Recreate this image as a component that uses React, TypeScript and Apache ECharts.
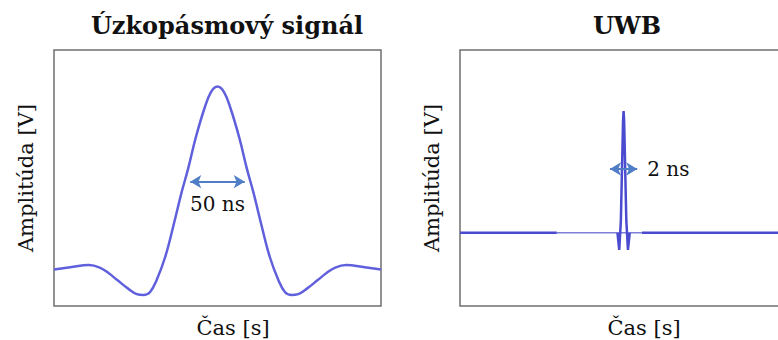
import React, { useEffect, useRef } from "react";
import * as echarts from "echarts";

// Narrowband pulse: time in ns, normalised amplitude
const narrowTimeNs = [-150, -135, -118, -108, -100, -92, -82, -74, -68, -62, -56, -48, -40, -33, -27, -20, -12, -6, 0, 6, 12, 20, 27, 33, 40, 48, 56, 62, 68, 74, 82, 92, 100, 108, 118, 135, 150];
const narrowAmplitude = [0.0, 0.012, 0.024, 0.01, -0.02, -0.058, -0.105, -0.135, -0.14, -0.125, -0.06, 0.068, 0.25, 0.42, 0.55, 0.72, 0.88, 0.97, 1.0, 0.97, 0.88, 0.72, 0.55, 0.42, 0.25, 0.068, -0.06, -0.125, -0.14, -0.135, -0.105, -0.058, -0.02, 0.01, 0.024, 0.012, 0.0];
const narrowWidthNs = 50;
const narrowWidthLevel = 0.48;

// UWB pulse: strong trace with gaps (null) where only the quiet baseline shows
const uwbTimeNs = [-12, -4.9, -4.9, -0.45, -0.32, -0.2, -0.04, 0, 0.04, 0.2, 0.32, 0.45, 0.45, 1.35, 12.5];
const uwbAmplitude = [0, 0, null, 0, -0.14, 0.1, 0.92, 1.0, 0.92, 0.1, -0.14, 0, null, 0, 0];
const uwbQuietTimeNs = [-4.9, 1.35];
const uwbQuietAmplitude = [0, 0];
const uwbWidthNs = 2;
const uwbWidthLevel = 0.524;

const titles = ["Úzkopásmový signál", "UWB"];
const xName = "Čas [s]";
const yName = "Amplitúda [V]";

const pairs = (t: number[], v: (number | null)[]) =>
  t.map((x, i) => [x, v[i] === null ? "-" : v[i]]);

const SERIF = "DejaVu Serif";
const INK = "#111";

export default function App() {
  const ref = useRef<HTMLDivElement>(null);

  useEffect(() => {
    if (!ref.current) return;
    const chart = echarts.init(ref.current, undefined, { renderer: "svg" });

    const hiddenAxisParts = {
      axisLine: { show: false },
      axisTick: { show: false },
      axisLabel: { show: false },
      splitLine: { show: false },
    };
    const nameStyle = (shift: number) => ({
      fontFamily: SERIF,
      fontSize: 21,
      color: INK,
      padding: [0, 0, 0, shift],
    });
    const gridBox = {
      show: true,
      borderColor: "#6f6f6f",
      borderWidth: 1.5,
      top: 50,
      height: 256,
      outerBoundsMode: "none",
    };
    const arrowLine = {
      silent: true,
      symbol: ["arrow", "arrow"],
      symbolSize: [10, 11],
      lineStyle: { color: "#4f7dc6", width: 2, type: "solid" as const },
      emphasis: { disabled: true },
    };
    const titleStyle = { fontFamily: SERIF, fontWeight: "bold", fontSize: 24, color: INK };

    chart.setOption({
      animation: false,
      backgroundColor: "#fff",
      title: [
        { text: titles[0], left: 227, top: 13, padding: 0, textAlign: "center", textStyle: titleStyle },
        { text: titles[1], left: 627, top: 13, padding: 0, textAlign: "center", textStyle: titleStyle },
      ],
      grid: [
        { ...gridBox, left: 54, width: 327 },
        { ...gridBox, left: 460, width: 334 },
      ],
      xAxis: [
        {
          gridIndex: 0,
          type: "value",
          min: -150,
          max: 150,
          ...hiddenAxisParts,
          name: xName,
          nameLocation: "middle",
          nameGap: 11,
          nameTextStyle: nameStyle(31),
        },
        {
          gridIndex: 1,
          type: "value",
          min: -12,
          max: 12.5,
          ...hiddenAxisParts,
          name: xName,
          nameLocation: "middle",
          nameGap: 11,
          nameTextStyle: nameStyle(34),
        },
      ],
      yAxis: [
        {
          gridIndex: 0,
          type: "value",
          min: -0.2,
          max: 1.2,
          ...hiddenAxisParts,
          name: yName,
          nameLocation: "middle",
          nameGap: 18,
          nameTextStyle: nameStyle(0),
        },
        {
          gridIndex: 1,
          type: "value",
          min: -0.6,
          max: 1.5,
          ...hiddenAxisParts,
          name: yName,
          nameLocation: "middle",
          nameGap: 18,
          nameTextStyle: nameStyle(0),
        },
      ],
      series: [
        {
          name: "narrow",
          type: "line",
          xAxisIndex: 0,
          yAxisIndex: 0,
          data: pairs(narrowTimeNs, narrowAmplitude),
          smooth: 0.4,
          showSymbol: false,
          lineStyle: { color: "#6060dc", width: 2.5 },
          markLine: {
            ...arrowLine,
            label: {
              show: true,
              formatter: `${narrowWidthNs} ns`,
              position: "insideMiddleBottom",
              distance: 12,
              fontFamily: SERIF,
              fontSize: 20,
              color: INK,
            },
            data: [
              [
                { coord: [-narrowWidthNs / 2, narrowWidthLevel] },
                { coord: [narrowWidthNs / 2, narrowWidthLevel] },
              ],
            ],
          },
        },
        {
          name: "uwb-quiet",
          type: "line",
          xAxisIndex: 1,
          yAxisIndex: 1,
          data: pairs(uwbQuietTimeNs, uwbQuietAmplitude),
          showSymbol: false,
          lineStyle: { color: "#7b7fd8", width: 1.5 },
        },
        {
          name: "uwb",
          type: "line",
          xAxisIndex: 1,
          yAxisIndex: 1,
          data: pairs(uwbTimeNs, uwbAmplitude),
          connectNulls: false,
          showSymbol: false,
          lineStyle: { color: "#4b4bd0", width: 2.5 },
          markLine: {
            ...arrowLine,
            label: {
              show: true,
              formatter: `${uwbWidthNs} ns`,
              position: "end",
              distance: 10,
              fontFamily: SERIF,
              fontSize: 20,
              color: INK,
            },
            data: [
              [
                { coord: [-uwbWidthNs / 2, uwbWidthLevel] },
                { coord: [uwbWidthNs / 2, uwbWidthLevel] },
              ],
            ],
          },
        },
      ],
    });

    return () => chart.dispose();
  }, []);

  return (
    <div
      ref={ref}
      style={{ position: "fixed", left: 0, top: 0, width: 778, height: 340, background: "#fff" }}
    />
  );
}
